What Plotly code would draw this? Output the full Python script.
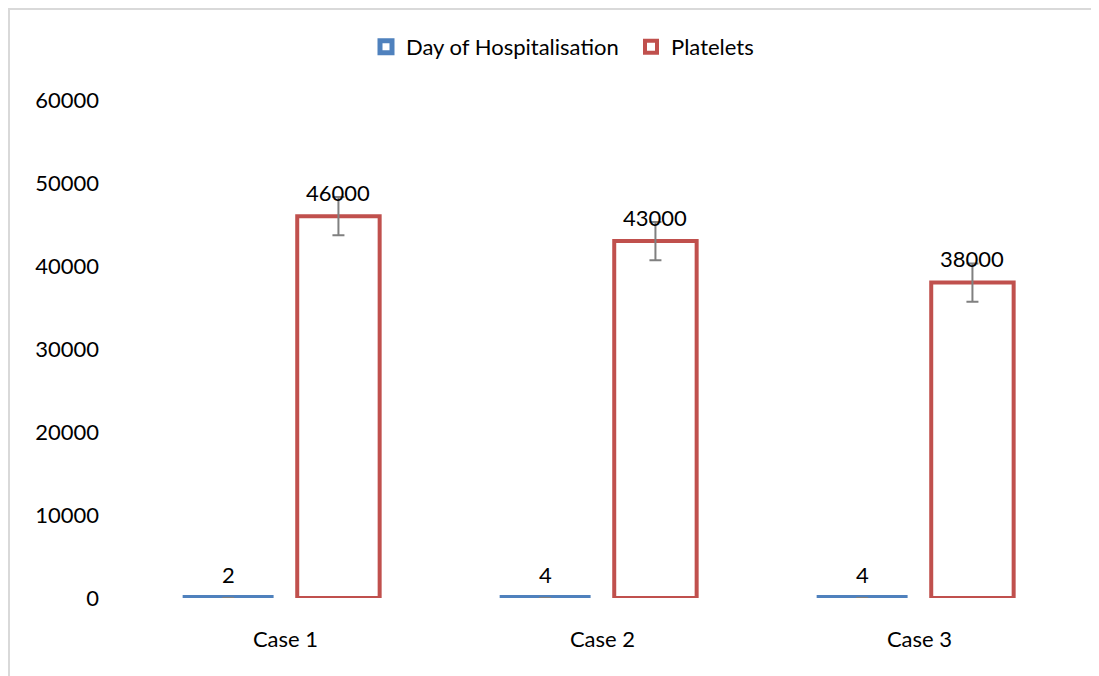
import plotly.graph_objects as go

categories = ["Case 1", "Case 2", "Case 3"]
day_of_hosp = [2, 4, 4]
platelets = [46000, 43000, 38000]
platelet_err = [2300, 2300, 2300]
day_err = [0.2, 0.2, 0.2]
y_ticks = [0, 10000, 20000, 30000, 40000, 50000, 60000]

xpos = list(range(len(categories)))
BLUE = "#4f81bd"
RED = "#c0504d"
FONT = "Lato, Calibri, sans-serif"
FS = 22

BW_BLUE, OFF_BLUE = 0.268, -0.315
BW_RED, OFF_RED = 0.26, 0.037

fig = go.Figure()
fig.add_trace(go.Bar(
    name="Day of Hospitalisation", x=xpos, y=day_of_hosp,
    width=BW_BLUE, offset=OFF_BLUE,
    marker=dict(color="white", line=dict(color=BLUE, width=6)),
    error_y=dict(type="data", array=day_err, color="#808080", thickness=2, width=6),
    cliponaxis=False,
))
fig.add_trace(go.Bar(
    name="Platelets", x=xpos, y=platelets,
    width=BW_RED, offset=OFF_RED,
    marker=dict(color="white", line=dict(color=RED, width=4)),
    error_y=dict(type="data", array=platelet_err, color="#808080", thickness=2, width=6),
    cliponaxis=False,
))

annotations = []
for i, v in zip(xpos, day_of_hosp):
    annotations.append(dict(x=i + OFF_BLUE + BW_BLUE / 2, y=v, xref="x", yref="y",
                            text=str(v), showarrow=False, yanchor="middle", yshift=23,
                            font=dict(family=FONT, size=FS, color="black")))
for i, v in zip(xpos, platelets):
    annotations.append(dict(x=i + OFF_RED + BW_RED / 2, y=v, xref="x", yref="y",
                            text=str(v), showarrow=False, yanchor="middle", yshift=24,
                            font=dict(family=FONT, size=FS, color="black")))

# body margin of 8px in the page: figure coords = screen coords - 8
W, H = 1091, 668
L, T = 119, 92
pw, ph = 951, 498
R, B = W - L - pw, H - T - ph

fig.update_layout(
    width=W, height=H,
    margin=dict(l=L, r=R, t=T, b=B),
    paper_bgcolor="white", plot_bgcolor="white",
    font=dict(family=FONT, size=FS, color="black"),
    barmode="overlay",
    showlegend=True,
    legend=dict(orientation="h", x=(358 - L) / pw, xanchor="left", y=1 + (T - 18) / ph, yanchor="top",
                font=dict(family=FONT, size=FS), itemwidth=30, traceorder="normal",
                entrywidth=220, entrywidthmode="pixels"),
    xaxis=dict(tickmode="array", tickvals=xpos, ticktext=categories, range=[-0.5, 2.5],
               showgrid=False, zeroline=False, showline=False, ticks="",
               ticklabelstandoff=26, tickfont=dict(family=FONT, size=FS)),
    yaxis=dict(range=[0, 60000], tickmode="array", tickvals=y_ticks,
               ticktext=[str(v) for v in y_ticks],
               showgrid=False, zeroline=False, showline=False, ticks="",
               ticklabelstandoff=27, tickfont=dict(family=FONT, size=FS)),
    annotations=annotations,
    shapes=[dict(type="rect", xref="paper", yref="paper",
                 x0=(1 - L) / pw, x1=(W + 20 - L) / pw,
                 y0=-(B + 20) / ph, y1=1 + (T - 1) / ph,
                 line=dict(color="#d9d9d9", width=2), fillcolor="rgba(0,0,0,0)", layer="below")],
)

fig.write_html("out.html")
